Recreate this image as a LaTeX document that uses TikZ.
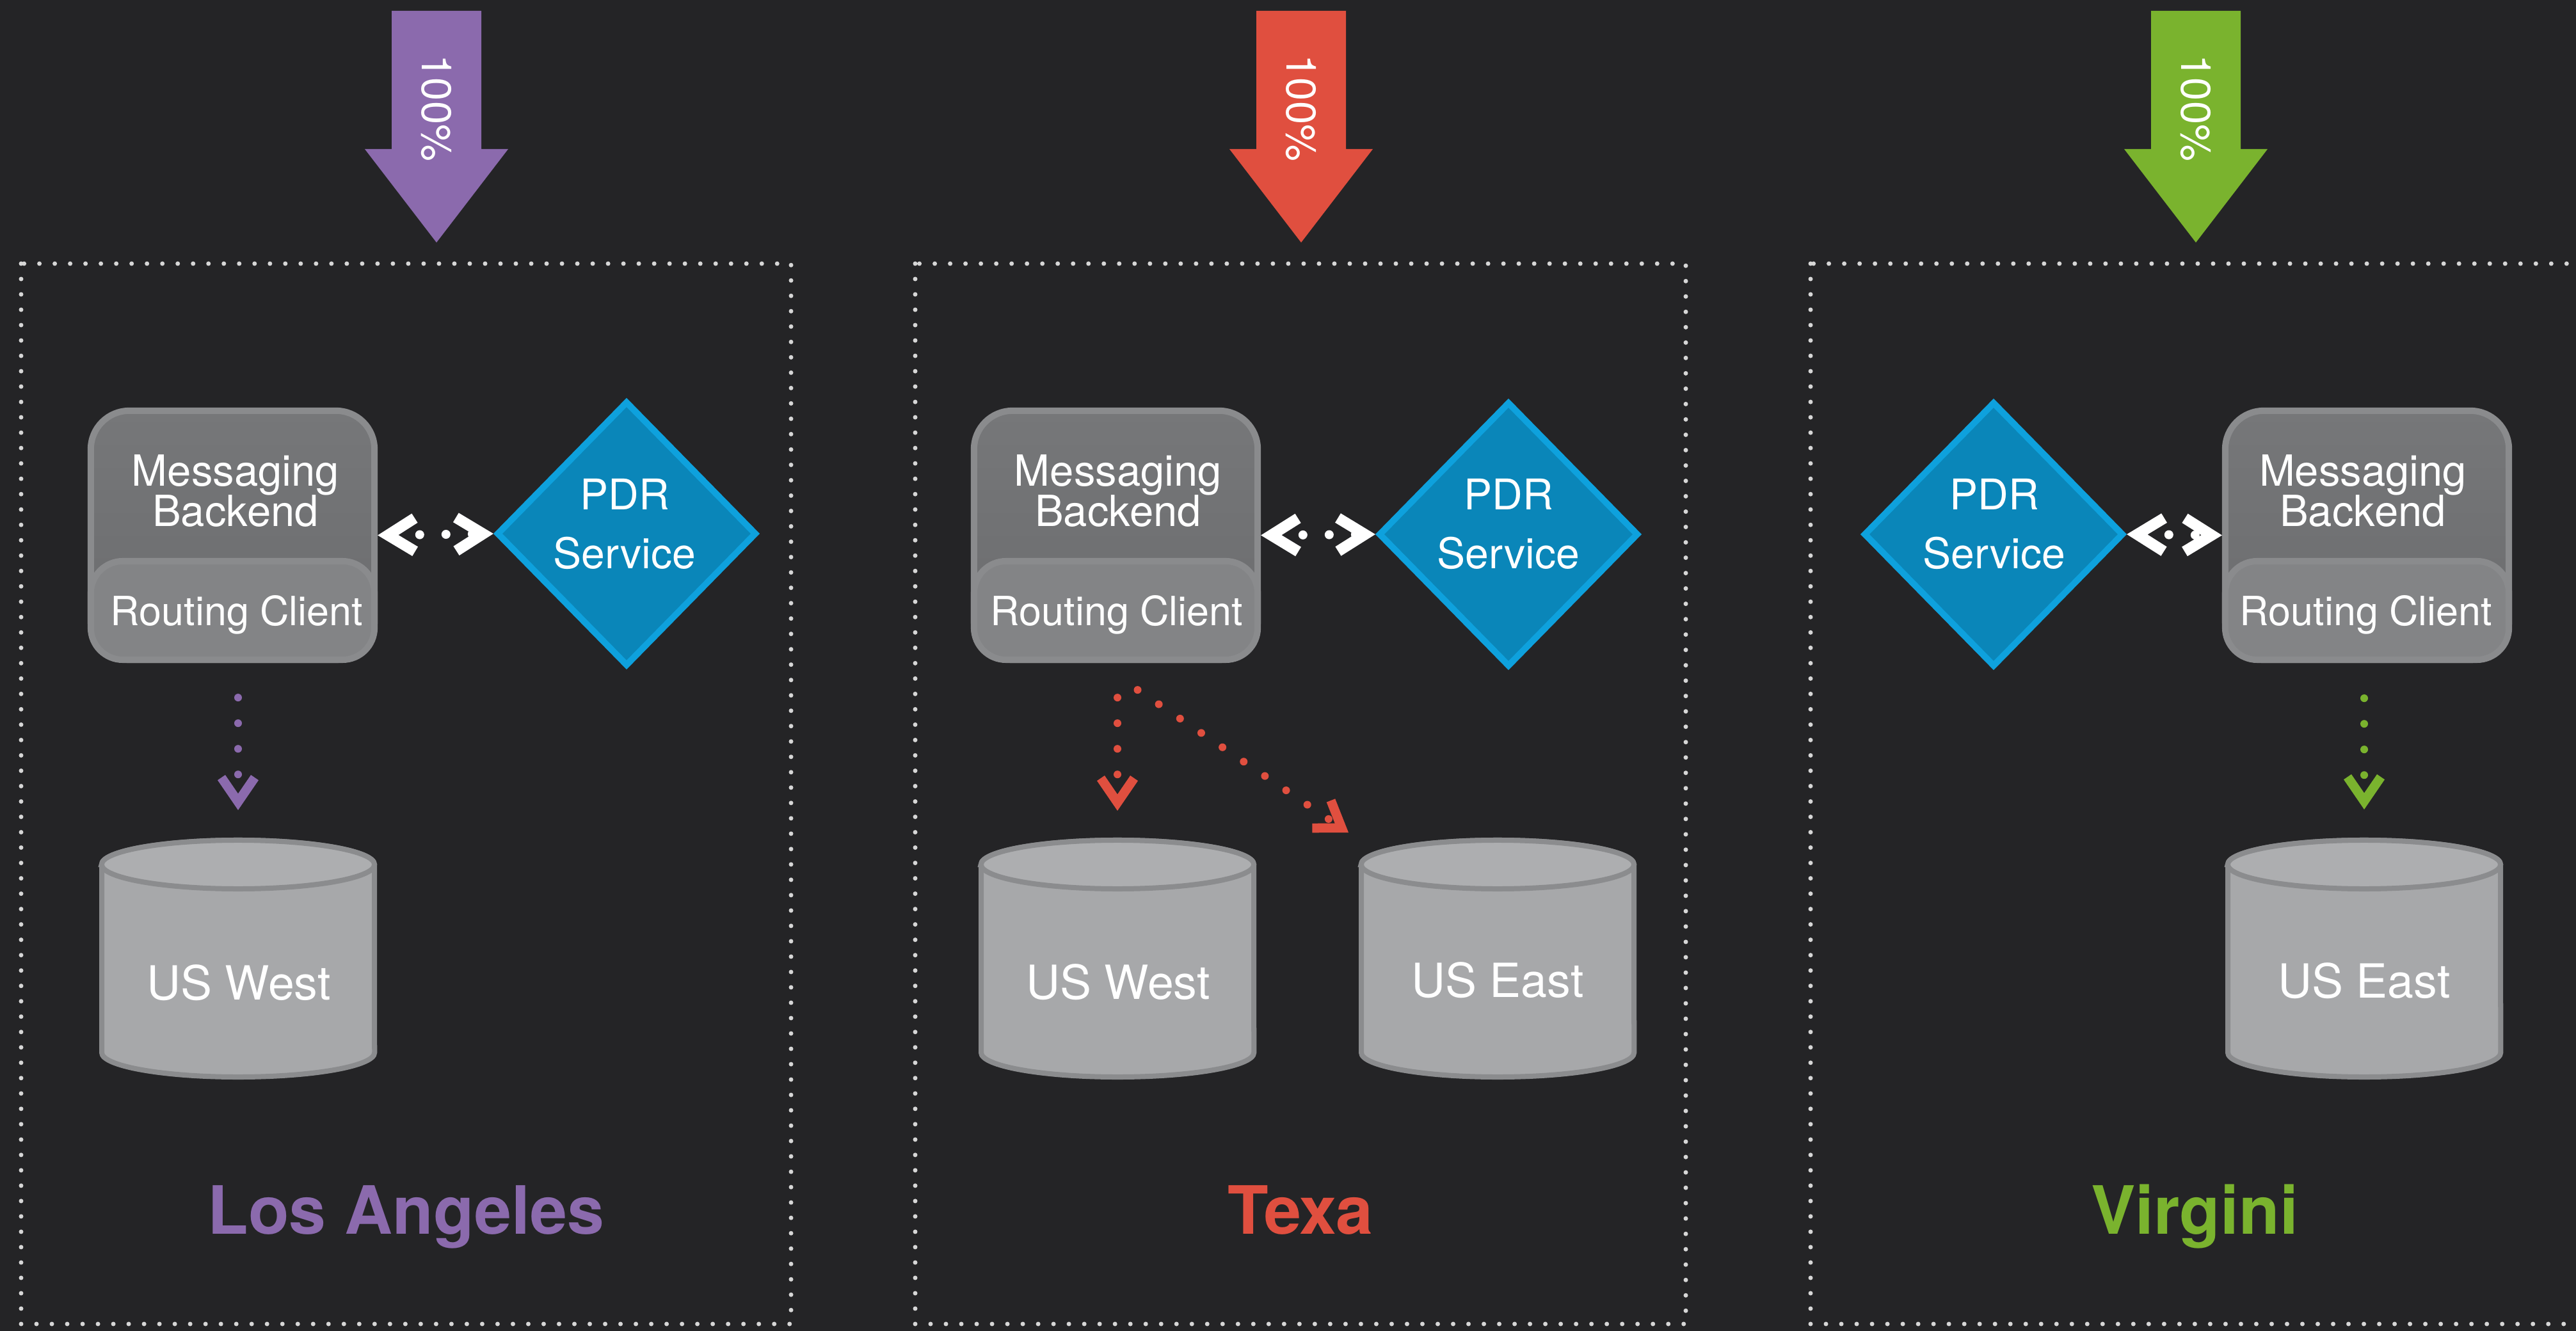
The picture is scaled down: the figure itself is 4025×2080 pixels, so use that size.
\documentclass[tikz,border=0pt]{standalone}
\usepackage{fontspec}
\setmainfont{TeX Gyre Heros}
\usetikzlibrary{arrows.meta,calc,shapes.geometric}
\definecolor{bgc}{HTML}{242426}
\definecolor{dotc}{HTML}{D6D6D6}
\definecolor{purp}{HTML}{8B6AAD}
\definecolor{redc}{HTML}{E04F3F}
\definecolor{grn}{HTML}{7AB32E}
\definecolor{pdrf}{HTML}{0A86B9}
\definecolor{pdrb}{HTML}{0EA1DD}
\definecolor{mtop}{HTML}{767779}
\definecolor{mbot}{HTML}{6B6C6E}
\definecolor{rcol}{HTML}{838486}
\definecolor{grayb}{HTML}{8A8B8D}
\definecolor{cylc}{HTML}{A7A8AA}
\definecolor{cyltop}{HTML}{ADAEB0}
\definecolor{cylb}{HTML}{8B8C8E}
\newcommand\dbcyl[1]{%
  \path[fill=cylc, draw=cylb, line width=0.08cm] (#1-213,1351) -- (#1-213,1645)
    arc[start angle=180, end angle=360, x radius=2.13cm, y radius=0.38cm]
    -- (#1+213,1351)
    arc[start angle=0, end angle=180, x radius=2.13cm, y radius=0.38cm] -- cycle;
  \path[fill=cyltop, draw=cylb, line width=0.08cm] (#1,1351) ellipse [x radius=2.13cm, y radius=0.38cm];
}
\newcommand\toparrow[2]{%
  \fill[#2] (#1-70,17) -- (#1+70,17) -- (#1+70,233) -- (#1+112,233) -- (#1,379)
    -- (#1-112,233) -- (#1-70,233) -- cycle;
}
\begin{document}
\begin{tikzpicture}[x=0.01cm, y=-0.01cm,
  panelbox/.style={draw=dotc, line width=0.07cm, dash pattern=on 0cm off 0.24cm, line cap=round},
  mbox/.style={draw=grayb, line width=0.1cm, rounded corners=0.6cm, minimum width=4.43cm,
    minimum height=3.89cm, inner sep=0, top color=mtop, bottom color=mbot},
  rbox/.style={draw=grayb, line width=0.1cm, rounded corners=0.5cm, minimum width=4.43cm,
    minimum height=1.54cm, inner sep=0, fill=rcol},
  mtext/.style={text=white, align=center, inner sep=0,
    font={\fontsize{19.06pt}{17.93pt}\selectfont\lineskiplimit=-50pt}},
  rtext/.style={text=white, inner sep=0, anchor=base, font={\fontsize{17.9pt}{20pt}\selectfont}},
  pdrbox/.style={diamond, aspect=1, draw=pdrb, fill=pdrf, line width=0.1cm,
    minimum width=4.06cm, minimum height=4.14cm, inner sep=0},
  ptext/.style={text=white, align=center, inner sep=0,
    font={\fontsize{18.8pt}{25.9pt}\selectfont}},
  dbtext/.style={text=white, inner sep=0, anchor=base, font={\fontsize{20.9pt}{24pt}\selectfont}},
  pct/.style={text=white, inner sep=0, rotate=-90, font={\fontsize{18.5pt}{20pt}\selectfont}},
  lbl/.style={inner sep=0, anchor=base, font={\fontsize{29.6pt}{34pt}\selectfont\bfseries}},
  bidir/.style={draw=white, line width=0.14cm, dash pattern=on 0cm off 0.41cm, line cap=round,
    {Straight Barb[length=0.42cm,width=0.52cm,line width=0.17cm]}-{Straight Barb[length=0.42cm,width=0.52cm,line width=0.17cm]}},
  flow/.style={draw=#1, line width=0.12cm, dash pattern=on 0cm off 0.40cm, line cap=round,
    -{Straight Barb[length=0.38cm,width=0.52cm,line width=0.145cm]}}
]
\useasboundingbox (0,0) rectangle (4025,2080);
\fill[bgc] (0,0) rectangle (4025,2080);
\clip (0,0) rectangle (4025,2080);

% panels
\draw[panelbox] (33,412) rectangle (1236,2069);
\draw[panelbox] (1430,412) rectangle (2634,2069);
\draw[panelbox] (2829,412) rectangle (4032,2069);

% top arrows
\toparrow{682}{purp}
\toparrow{2033}{redc}
\toparrow{3431}{grn}
\node[pct] (p1) at (682,169) {100\%};
\node[pct] (p2) at (2033,169) {100\%};
\node[pct] (p3) at (3431,169) {100\%};

% ---------- panel 1 ----------
\node[mbox] (mb1) at (363.5,836.5) {};
\node[rbox] (rc1) at (363.5,954) {};
\node[mtext] (mt1) at (368,767) {Messaging\\Backend};
\node[rtext] (rt1) at (370,978) {Routing Client};
\node[pdrbox] (pdr1) at (979,834) {};
\node[ptext] (pt1) at (976,819) {PDR\\Service};
\dbcyl{372}
\coordinate (db1) at (372,1309);
\node[dbtext] (dt1) at (373,1562) {US West};
\draw[bidir] (mb1.east) -- (pdr1.west);
\draw[flow=purp, shorten <=0.54cm, shorten >=0.43cm] (db1 |- mb1.south) -- (db1);
\node[lbl, text=purp] (l1) at (634.5,1928) {Los Angeles};

% ---------- panel 2 ----------
\node[mbox] (mb2) at (1743.5,836.5) {};
\node[rbox] (rc2) at (1743.5,954) {};
\node[mtext] (mt2) at (1747,767) {Messaging\\Backend};
\node[rtext] (rt2) at (1745,978) {Routing Client};
\node[pdrbox] (pdr2) at (2357,835) {};
\node[ptext] (pt2) at (2357,819) {PDR\\Service};
\dbcyl{1746}
\dbcyl{2340}
\coordinate (db2w) at (1746,1309);
\coordinate (db2e) at (2340,1309);
\node[dbtext] (dt2w) at (1747,1561) {US West};
\node[dbtext] (dt2e) at (2340,1558) {US East};
\draw[bidir] (mb2.east) -- (pdr2.west);
\draw[flow=redc, shorten <=0.54cm, shorten >=0.42cm] (db2w |- mb2.south) -- (db2w);
\draw[flow=redc] ($(mb2.south)+(34,42)$) -- ($(db2e)+(-233,-8)$);
\node[lbl, text=redc] (l2) at (2032,1928) {Texa};

% ---------- panel 3 ----------
\node[mbox] (mb3) at (3698.5,836.5) {};
\node[rbox] (rc3) at (3698.5,954) {};
\node[mtext] (mt3) at (3692,767) {Messaging\\Backend};
\node[rtext] (rt3) at (3697,978) {Routing Client};
\node[pdrbox] (pdr3) at (3115,835) {};
\node[ptext] (pt3) at (3116,819) {PDR\\Service};
\dbcyl{3694}
\coordinate (db3) at (3694,1309);
\node[dbtext] (dt3) at (3694,1559) {US East};
\draw[bidir] (pdr3.east) -- (mb3.west);
\draw[flow=grn, shorten <=0.55cm, shorten >=0.44cm] (db3 |- mb3.south) -- (db3);
\node[lbl, text=grn] (l3) at (3429,1928) {Virgini};
\end{tikzpicture}
\end{document}
